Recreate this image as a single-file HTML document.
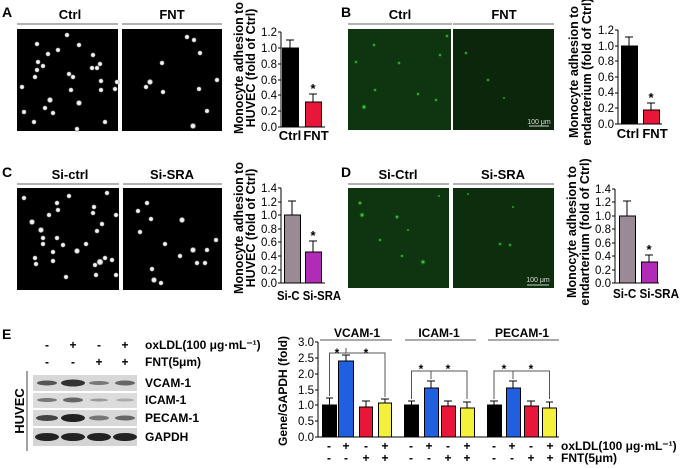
<!DOCTYPE html>
<html><head><meta charset="utf-8"><style>
html,body{margin:0;padding:0;background:#fff;}
svg{display:block;font-family:"Liberation Sans",Arial,sans-serif;}
.t{font-size:11.5px;fill:#000}
.tb{font-size:12px;font-weight:bold;fill:#000}
.ti{font-size:13px;font-weight:bold;fill:#000}
.yl{font-size:12.5px;font-weight:bold;fill:#000}
.L{font-size:14px;font-weight:bold;fill:#000}
</style></head><body>
<svg width="682" height="469" viewBox="0 0 682 469" xmlns="http://www.w3.org/2000/svg">
<defs>
<radialGradient id="dot"><stop offset="0" stop-color="#fff"/><stop offset="0.6" stop-color="#ddd"/><stop offset="1" stop-color="#000" stop-opacity="0"/></radialGradient>
<radialGradient id="gd"><stop offset="0" stop-color="#6f6"/><stop offset="1" stop-color="#0a0" stop-opacity="0"/></radialGradient>
</defs>
<!-- Panel A -->
<text class="L" x="2" y="17">A</text>
<text class="ti" x="70" y="19" text-anchor="middle">Ctrl</text>
<text class="ti" x="172" y="19" text-anchor="middle">FNT</text>
<line x1="17" y1="24" x2="118" y2="24" stroke="#666"/>
<line x1="122" y1="24" x2="222" y2="24" stroke="#666"/>
<rect x="17" y="29" width="101" height="102" fill="#000"/>
<rect x="122" y="29" width="100" height="102" fill="#000"/>
<g fill="url(#dot)">
<circle cx="67" cy="35" r="3"/><circle cx="37" cy="44" r="3"/><circle cx="79" cy="45" r="3"/><circle cx="48" cy="54" r="3"/><circle cx="58" cy="50" r="3"/><circle cx="93" cy="55" r="3"/><circle cx="38" cy="62" r="3"/><circle cx="43" cy="66" r="3"/><circle cx="37" cy="70" r="3"/><circle cx="92" cy="68" r="3"/><circle cx="97" cy="68" r="3"/><circle cx="100" cy="64" r="3"/><circle cx="69" cy="74" r="3"/><circle cx="73" cy="77" r="3"/><circle cx="35" cy="77" r="3"/><circle cx="101" cy="81" r="3"/><circle cx="117" cy="82" r="3"/><circle cx="22" cy="87" r="3"/><circle cx="71" cy="90" r="3"/><circle cx="101" cy="90" r="3"/><circle cx="115" cy="89" r="3"/><circle cx="50" cy="100" r="3.5"/><circle cx="79" cy="103" r="3.5"/><circle cx="45" cy="108" r="3"/><circle cx="24" cy="112" r="3"/><circle cx="53" cy="113" r="3"/><circle cx="34" cy="122" r="3"/><circle cx="105" cy="122" r="3"/><circle cx="77" cy="129" r="3"/>
<circle cx="187" cy="37" r="3"/><circle cx="194" cy="40" r="3"/><circle cx="200" cy="53" r="3"/><circle cx="162" cy="63" r="3"/><circle cx="150" cy="82" r="3.5"/><circle cx="146" cy="87" r="3"/><circle cx="217" cy="80" r="3"/><circle cx="163" cy="92" r="3"/><circle cx="199" cy="89" r="3"/><circle cx="207" cy="111" r="3"/><circle cx="193" cy="126" r="3.5"/>
</g>
<g class="t" text-anchor="end"><text x="277" y="36">1.2</text><text x="277" y="52">1.0</text><text x="277" y="68">0.8</text><text x="277" y="84">0.6</text><text x="277" y="99">0.4</text><text x="277" y="115">0.2</text><text x="277" y="131">0.0</text></g>
<g stroke="#000"><line x1="281" y1="32" x2="281" y2="127"/><line x1="278" y1="32" x2="281" y2="32"/><line x1="278" y1="48" x2="281" y2="48"/><line x1="278" y1="64" x2="281" y2="64"/><line x1="278" y1="80" x2="281" y2="80"/><line x1="278" y1="95" x2="281" y2="95"/><line x1="278" y1="111" x2="281" y2="111"/><line x1="278" y1="127" x2="325" y2="127"/>
<line x1="290" y1="48" x2="290" y2="40"/><line x1="286" y1="40" x2="294" y2="40"/><line x1="313" y1="102" x2="313" y2="94"/><line x1="309" y1="94" x2="317" y2="94"/></g>
<rect x="282.5" y="48" width="16" height="79" fill="#000" stroke="#000"/>
<rect x="305.5" y="102" width="16" height="25" fill="#e8173a" stroke="#000"/>
<text class="ti" x="313" y="93" text-anchor="middle">*</text>
<text class="ti" x="290" y="140" text-anchor="middle">Ctrl</text><text class="ti" x="316" y="140" text-anchor="middle">FNT</text>
<text class="yl" transform="translate(243,68) rotate(-90)" text-anchor="middle">Monocyte adhesion to</text>
<text class="yl" transform="translate(255,68) rotate(-90)" text-anchor="middle">HUVEC (fold of Ctrl)</text>

<!-- Panel B -->
<text class="L" x="341" y="17">B</text>
<text class="ti" x="400" y="19" text-anchor="middle">Ctrl</text>
<text class="ti" x="504" y="19" text-anchor="middle">FNT</text>
<line x1="348" y1="24" x2="452" y2="24" stroke="#666"/>
<line x1="453" y1="24" x2="554" y2="24" stroke="#666"/>
<rect x="348" y="29" width="103" height="101" fill="#0f3410"/>
<rect x="453" y="29" width="101" height="101" fill="#0b260b"/>
<g fill="url(#gd)"><circle cx="364" cy="107" r="3"/><circle cx="375" cy="90" r="2"/><circle cx="399" cy="63" r="2"/><circle cx="447" cy="36" r="2"/><circle cx="440" cy="55" r="2"/><circle cx="374" cy="45" r="2"/><circle cx="418" cy="94" r="2"/><circle cx="436" cy="100" r="2"/><circle cx="356" cy="62" r="2"/><circle cx="466" cy="53" r="2"/><circle cx="488" cy="80" r="2"/><circle cx="504" cy="98" r="1.5"/></g>
<line x1="529" y1="126" x2="549" y2="126" stroke="#ccc"/>
<text x="539" y="124" font-size="7" fill="#ddd" text-anchor="middle">100 μm</text>
<g class="t" text-anchor="end"><text x="614" y="34">1.2</text><text x="614" y="50">1.0</text><text x="614" y="65">0.8</text><text x="614" y="81">0.6</text><text x="614" y="96">0.4</text><text x="614" y="112">0.2</text><text x="614" y="128">0.0</text></g>
<g stroke="#000"><line x1="618" y1="30" x2="618" y2="124"/><line x1="615" y1="30" x2="618" y2="30"/><line x1="615" y1="46" x2="618" y2="46"/><line x1="615" y1="61" x2="618" y2="61"/><line x1="615" y1="77" x2="618" y2="77"/><line x1="615" y1="93" x2="618" y2="93"/><line x1="615" y1="108" x2="618" y2="108"/><line x1="615" y1="124" x2="662" y2="124"/>
<line x1="629" y1="46" x2="629" y2="37"/><line x1="625" y1="37" x2="633" y2="37"/><line x1="651" y1="110" x2="651" y2="103"/><line x1="647" y1="103" x2="655" y2="103"/></g>
<rect x="621.5" y="46" width="16" height="78" fill="#000" stroke="#000"/>
<rect x="643.5" y="110" width="16" height="14" fill="#e8173a" stroke="#000"/>
<text class="ti" x="651" y="102" text-anchor="middle">*</text>
<text class="ti" x="628" y="138" text-anchor="middle">Ctrl</text><text class="ti" x="655" y="138" text-anchor="middle">FNT</text>
<text class="yl" transform="translate(578,72) rotate(-90)" text-anchor="middle">Monocyte adhesion to</text>
<text class="yl" transform="translate(591,72) rotate(-90)" text-anchor="middle">endarterium (fold of Ctrl)</text>

<!-- Panel C -->
<text class="L" x="2" y="177">C</text>
<text class="ti" x="70" y="179" text-anchor="middle">Si-ctrl</text>
<text class="ti" x="172" y="179" text-anchor="middle">Si-SRA</text>
<line x1="17" y1="184" x2="119" y2="184" stroke="#666"/>
<line x1="123" y1="184" x2="222" y2="184" stroke="#666"/>
<rect x="17" y="188" width="102" height="102" fill="#000"/>
<rect x="123" y="188" width="99" height="102" fill="#000"/>
<g fill="url(#dot)">
<circle cx="24" cy="198" r="3"/><circle cx="69" cy="196" r="3"/><circle cx="107" cy="193" r="3"/><circle cx="57" cy="203" r="3"/><circle cx="58" cy="210" r="3"/><circle cx="49" cy="215" r="3"/><circle cx="94" cy="207" r="3"/><circle cx="93" cy="213" r="3"/><circle cx="116" cy="215" r="3"/><circle cx="32" cy="222" r="3.5"/><circle cx="102" cy="224" r="3"/><circle cx="41" cy="230" r="3.5"/><circle cx="97" cy="231" r="3"/><circle cx="43" cy="238" r="3"/><circle cx="57" cy="238" r="3"/><circle cx="43" cy="244" r="3"/><circle cx="63" cy="245" r="3"/><circle cx="86" cy="244" r="3"/><circle cx="77" cy="251" r="3.5"/><circle cx="53" cy="252" r="3"/><circle cx="105" cy="258" r="3"/><circle cx="35" cy="258" r="3"/><circle cx="53" cy="261" r="3"/><circle cx="100" cy="262" r="4"/><circle cx="95" cy="265" r="3"/><circle cx="112" cy="260" r="3"/><circle cx="36" cy="264" r="3"/><circle cx="96" cy="275" r="3"/><circle cx="116" cy="275" r="3"/><circle cx="66" cy="277" r="3"/>
<circle cx="147" cy="203" r="3"/><circle cx="138" cy="211" r="3"/><circle cx="151" cy="219" r="3"/><circle cx="182" cy="220" r="3.5"/><circle cx="140" cy="232" r="3"/><circle cx="165" cy="244" r="3"/><circle cx="216" cy="240" r="3"/><circle cx="193" cy="250" r="3.5"/><circle cx="207" cy="250" r="3"/><circle cx="180" cy="256" r="3"/><circle cx="197" cy="263" r="3"/><circle cx="205" cy="263" r="3"/><circle cx="152" cy="269" r="3"/><circle cx="154" cy="280" r="3.5"/><circle cx="161" cy="283" r="3"/></g>
<g class="t" text-anchor="end"><text x="277" y="192">1.4</text><text x="277" y="206">1.2</text><text x="277" y="219">1.0</text><text x="277" y="233">0.8</text><text x="277" y="246">0.6</text><text x="277" y="260">0.4</text><text x="277" y="274">0.2</text><text x="277" y="287">0.0</text></g>
<g stroke="#000"><line x1="281" y1="188" x2="281" y2="283"/><line x1="278" y1="188" x2="281" y2="188"/><line x1="278" y1="202" x2="281" y2="202"/><line x1="278" y1="215" x2="281" y2="215"/><line x1="278" y1="229" x2="281" y2="229"/><line x1="278" y1="242" x2="281" y2="242"/><line x1="278" y1="256" x2="281" y2="256"/><line x1="278" y1="270" x2="281" y2="270"/><line x1="278" y1="283" x2="325" y2="283"/>
<line x1="292" y1="215" x2="292" y2="201"/><line x1="288" y1="201" x2="296" y2="201"/><line x1="313" y1="252" x2="313" y2="241"/><line x1="309" y1="241" x2="317" y2="241"/></g>
<rect x="284.5" y="215" width="16" height="68" fill="#9c8996" stroke="#000"/>
<rect x="305.5" y="252" width="16" height="31" fill="#b02cb6" stroke="#000"/>
<text class="ti" x="313" y="240" text-anchor="middle">*</text>
<text class="ti" x="277" y="300" textLength="64" lengthAdjust="spacingAndGlyphs">Si-C Si-SRA</text>
<text class="yl" transform="translate(243,228) rotate(-90)" text-anchor="middle">Monocyte adhesion to</text>
<text class="yl" transform="translate(255,228) rotate(-90)" text-anchor="middle">HUVEC (fold of Ctrl)</text>

<!-- Panel D -->
<text class="L" x="341" y="177">D</text>
<text class="ti" x="398" y="179" text-anchor="middle">Si-Ctrl</text>
<text class="ti" x="503" y="179" text-anchor="middle">Si-SRA</text>
<line x1="348" y1="184" x2="449" y2="184" stroke="#666"/>
<line x1="453" y1="184" x2="554" y2="184" stroke="#666"/>
<rect x="348" y="188" width="101" height="100" fill="#0f3410"/>
<rect x="453" y="188" width="101" height="100" fill="#0d2e0d"/>
<g fill="url(#gd)"><circle cx="360" cy="203" r="2.5"/><circle cx="362" cy="215" r="3"/><circle cx="397" cy="217" r="2.5"/><circle cx="423" cy="262" r="3"/><circle cx="402" cy="256" r="2"/><circle cx="380" cy="240" r="2"/><circle cx="408" cy="230" r="1.5"/><circle cx="439" cy="196" r="1.5"/><circle cx="500" cy="244" r="2"/><circle cx="510" cy="245" r="2"/><circle cx="468" cy="194" r="1.5"/><circle cx="513" cy="207" r="1.5"/></g>
<line x1="527" y1="285" x2="549" y2="285" stroke="#ccc"/>
<text x="538" y="282" font-size="7" fill="#ddd" text-anchor="middle">100 μm</text>
<g class="t" text-anchor="end"><text x="611" y="193">1.4</text><text x="611" y="206">1.2</text><text x="611" y="220">1.0</text><text x="611" y="233">0.8</text><text x="611" y="247">0.6</text><text x="611" y="260">0.4</text><text x="611" y="274">0.2</text><text x="611" y="287">0.0</text></g>
<g stroke="#000"><line x1="615" y1="189" x2="615" y2="283"/><line x1="612" y1="189" x2="615" y2="189"/><line x1="612" y1="202" x2="615" y2="202"/><line x1="612" y1="216" x2="615" y2="216"/><line x1="612" y1="229" x2="615" y2="229"/><line x1="612" y1="243" x2="615" y2="243"/><line x1="612" y1="256" x2="615" y2="256"/><line x1="612" y1="270" x2="615" y2="270"/><line x1="612" y1="283" x2="659" y2="283"/>
<line x1="627" y1="216" x2="627" y2="201"/><line x1="623" y1="201" x2="631" y2="201"/><line x1="649" y1="262" x2="649" y2="255"/><line x1="645" y1="255" x2="653" y2="255"/></g>
<rect x="619.5" y="216" width="16" height="67" fill="#9c8996" stroke="#000"/>
<rect x="641.5" y="262" width="16" height="21" fill="#b02cb6" stroke="#000"/>
<text class="ti" x="649" y="254" text-anchor="middle">*</text>
<text class="ti" x="613" y="298" textLength="66" lengthAdjust="spacingAndGlyphs">Si-C Si-SRA</text>
<text class="yl" transform="translate(576,232) rotate(-90)" text-anchor="middle">Monocyte adhesion to</text>
<text class="yl" transform="translate(589,232) rotate(-90)" text-anchor="middle">endarterium (fold of Ctrl)</text>

<!-- Panel E blot -->
<text class="L" x="2" y="339">E</text>
<g class="tb" text-anchor="middle"><text x="47" y="349">-</text><text x="73" y="349">+</text><text x="99" y="349">-</text><text x="125" y="349">+</text>
<text x="47" y="366">-</text><text x="73" y="366">-</text><text x="99" y="366">+</text><text x="125" y="366">+</text></g>
<text class="tb" x="145" y="349">oxLDL(100 μg·mL⁻¹)</text>
<text class="tb" x="145" y="366">FNT(5μm)</text>
<line x1="27" y1="371" x2="27" y2="451" stroke="#444"/>
<text class="ti" transform="translate(24,411) rotate(-90)" text-anchor="middle">HUVEC</text>
<rect x="33" y="375" width="104" height="16" fill="#d8d8d8"/>
<rect x="33" y="393" width="104" height="15" fill="#dcdcdc"/>
<rect x="33" y="410" width="104" height="16" fill="#d8d8d8"/>
<rect x="33" y="428" width="104" height="18" fill="#d4d4d4"/>
<g fill="#555"><ellipse cx="47" cy="383" rx="10" ry="2.5"/><ellipse cx="73" cy="383" rx="12" ry="3.5" fill="#333"/><ellipse cx="99" cy="383" rx="10" ry="2" fill="#777"/><ellipse cx="125" cy="383" rx="10" ry="2.5" fill="#666"/>
<ellipse cx="47" cy="400" rx="10" ry="2" fill="#777"/><ellipse cx="73" cy="400" rx="10" ry="2.5" fill="#666"/><ellipse cx="99" cy="400" rx="9" ry="1.5" fill="#999"/><ellipse cx="125" cy="400" rx="9" ry="1.5" fill="#aaa"/>
<ellipse cx="47" cy="418" rx="11" ry="3" fill="#444"/><ellipse cx="73" cy="418" rx="12" ry="4" fill="#222"/><ellipse cx="99" cy="418" rx="10" ry="2.5" fill="#777"/><ellipse cx="125" cy="418" rx="10" ry="2.5" fill="#666"/>
<ellipse cx="47" cy="437" rx="12" ry="4" fill="#222"/><ellipse cx="73" cy="437" rx="12" ry="4" fill="#222"/><ellipse cx="99" cy="437" rx="12" ry="4" fill="#222"/><ellipse cx="125" cy="437" rx="12" ry="4" fill="#222"/></g>
<text class="tb" x="145" y="387">VCAM-1</text>
<text class="tb" x="145" y="404">ICAM-1</text>
<text class="tb" x="145" y="422">PECAM-1</text>
<text class="tb" x="145" y="441">GAPDH</text>

<!-- Panel E chart -->
<text class="tb" transform="translate(287,391) rotate(-90)" text-anchor="middle">Gene/GAPDH (fold)</text>
<g class="t" text-anchor="end"><text x="314" y="346">3.0</text><text x="314" y="362">2.5</text><text x="314" y="378">2.0</text><text x="314" y="394">1.5</text><text x="314" y="409">1.0</text><text x="314" y="425">0.5</text><text x="314" y="441">0.0</text></g>
<g stroke="#000"><line x1="318" y1="342" x2="318" y2="437"/><line x1="315" y1="342" x2="318" y2="342"/><line x1="315" y1="358" x2="318" y2="358"/><line x1="315" y1="374" x2="318" y2="374"/><line x1="315" y1="390" x2="318" y2="390"/><line x1="315" y1="405" x2="318" y2="405"/><line x1="315" y1="421" x2="318" y2="421"/><line x1="315" y1="437" x2="559" y2="437"/></g>
<g stroke="#000">
<path d="M329.5 405V398M326 398H333 M346 361V355M342 355H350 M366 407V401M362 401H370 M385 403V399M381 399H389
M411.5 405V401M408 401H415 M431 388V381M427 381H435 M448 406V401M444 401H452 M467 408V402M463 402H471
M494 405V401M490 401H498 M513 388V381M509 381H517 M531 406V401M527 401H535 M549.5 408V402M546 402H553" fill="none"/>
</g>
<g stroke="#000">
<rect x="322.5" y="405" width="14" height="32" fill="#000"/><rect x="338.5" y="361" width="15" height="76" fill="#1f5fe0"/><rect x="359.5" y="407" width="13" height="30" fill="#e8173a"/><rect x="378.5" y="403" width="13" height="34" fill="#f5f03a"/>
<rect x="404.5" y="405" width="14" height="32" fill="#000"/><rect x="424.5" y="388" width="14" height="49" fill="#1f5fe0"/><rect x="441.5" y="406" width="14" height="31" fill="#e8173a"/><rect x="460.5" y="408" width="14" height="29" fill="#f5f03a"/>
<rect x="487.5" y="405" width="14" height="32" fill="#000"/><rect x="506.5" y="388" width="14" height="49" fill="#1f5fe0"/><rect x="524.5" y="406" width="14" height="31" fill="#e8173a"/><rect x="542.5" y="408" width="14" height="29" fill="#f5f03a"/>
</g>
<g stroke="#555" fill="none">
<path d="M329.5 396V353H385V397 M346 353V348"/>
<path d="M411.5 399V371H467V399 M431 371V379"/>
<path d="M494 399V371H549.5V399 M513 371V379"/>
<line x1="320" y1="340" x2="392" y2="340"/><line x1="405" y1="340" x2="476" y2="340"/><line x1="488" y1="340" x2="559" y2="340"/>
</g>
<g class="tb" text-anchor="middle"><text x="337" y="357">*</text><text x="366" y="357">*</text><text x="421" y="373">*</text><text x="448" y="373">*</text><text x="504" y="373">*</text><text x="531" y="373">*</text>
<text x="357" y="337">VCAM-1</text><text x="439" y="337">ICAM-1</text><text x="522" y="337">PECAM-1</text></g>
<g class="tb" text-anchor="middle">
<text x="329" y="450">-</text><text x="346" y="450">+</text><text x="366" y="450">-</text><text x="385" y="450">+</text>
<text x="411" y="450">-</text><text x="429" y="450">+</text><text x="448" y="450">-</text><text x="467" y="450">+</text>
<text x="494" y="450">-</text><text x="512" y="450">+</text><text x="531" y="450">-</text><text x="550" y="450">+</text>
<text x="329" y="462">-</text><text x="346" y="462">-</text><text x="366" y="462">+</text><text x="385" y="462">+</text>
<text x="411" y="462">-</text><text x="429" y="462">-</text><text x="448" y="462">+</text><text x="467" y="462">+</text>
<text x="494" y="462">-</text><text x="512" y="462">-</text><text x="531" y="462">+</text><text x="550" y="462">+</text></g>
<text class="tb" x="561" y="450">oxLDL(100 μg·mL⁻¹)</text>
<text class="tb" x="561" y="462">FNT(5μm)</text>
</svg>
</body></html>
